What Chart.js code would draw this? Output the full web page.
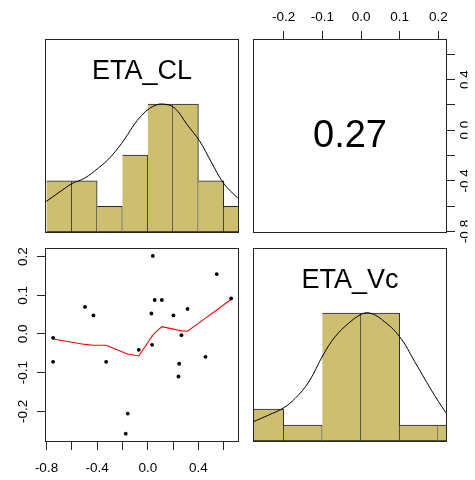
<!DOCTYPE html>
<html>
<head>
<meta charset="utf-8">
<title>ETA pairs</title>
<script src="https://cdn.jsdelivr.net/npm/chart.js@4.4.0/dist/chart.umd.min.js"></script>
<style>
    body { margin: 0; background: #fff; }
    #wrap { position: relative; width: 475px; height: 480px; }
    #wrap canvas { position: absolute; left: 0; top: 0; }
</style>
</head>
<body>
<div id="wrap">
    <canvas id="histCL" width="475" height="480"></canvas>
    <canvas id="corrPanel" width="475" height="480"></canvas>
    <canvas id="scatterPanel" width="475" height="480"></canvas>
    <canvas id="histVc" width="475" height="480"></canvas>
</div>
<script>
// Nomes das variáveis (diagonal)
const varNames = ['ETA_CL', 'ETA_Vc'];

// ETAs individuais (21 sujeitos), ordenados por ETA_CL
const etaCL = [-0.748, -0.748, -0.496, -0.429, -0.329, -0.174, -0.158, -0.071, 0.029, 0.034, 0.040,
               0.055, 0.111, 0.203, 0.243, 0.248, 0.266, 0.314, 0.456, 0.545, 0.659];
const etaVc = [-0.010, -0.072, 0.070, 0.048, -0.072, -0.258, -0.206, -0.041, 0.053, -0.028, 0.202,
               0.088, 0.088, 0.048, -0.110, -0.077, -0.003, 0.065, -0.059, 0.155, 0.092];

// Curva lowess de ETA_Vc em ETA_CL (avaliada nos mesmos x)
const lowessVc = [-0.013, -0.013, -0.027, -0.029, -0.029, -0.050, -0.052, -0.057, -0.008, -0.005, -0.003,
                  0.002, 0.019, 0.0125, 0.0096, 0.0093, 0.008, 0.007, 0.041, 0.062, 0.090];

// Histogramas: centro das classes e contagens
const clBinMids = [-0.7, -0.5, -0.3, -0.1, 0.1, 0.3, 0.5, 0.7];
const clBinCounts = [2, 2, 1, 3, 5, 5, 2, 1];
const vcBinMids = [-0.25, -0.15, -0.05, 0.05, 0.15, 0.25];
const vcBinCounts = [2, 1, 8, 8, 1, 1];

// Densidades (escaladas para pico = 1)
const clDensX = [-0.83, -0.80, -0.70, -0.595, -0.50, -0.39, -0.29, -0.18, -0.10, -0.03, 0.0, 0.05, 0.116,
                 0.21, 0.31, 0.41, 0.50, 0.60, 0.71, 0.74];
const clDensY = [0.22, 0.24, 0.31, 0.38, 0.42, 0.50, 0.59, 0.73, 0.85, 0.93, 0.955, 0.985, 1.0,
                 0.97, 0.84, 0.71, 0.55, 0.38, 0.266, 0.24];
const vcDensX = [-0.30, -0.282, -0.239, -0.202, -0.170, -0.135, -0.098, -0.067, -0.032, 0.001, 0.022,
                 0.053, 0.100, 0.139, 0.182, 0.219, 0.235];
const vcDensY = [0.12, 0.146, 0.203, 0.256, 0.334, 0.463, 0.672, 0.815, 0.92, 0.99, 1.0,
                 0.951, 0.815, 0.62, 0.398, 0.224, 0.16];

// Correlação
const corrValue = 0.27;

// Limites dos eixos e marcas rotuladas
const clRange = [-0.804, 0.713];
const vcRange = [-0.277, 0.220];
const clTickLabels = [-0.8, -0.4, 0.0, 0.4];
const vcTickLabels = [-0.2, -0.1, 0.0, 0.1, 0.2];

const W = 475, H = 480;
const TICK_LEN = 9;
const HIST_FILL = '#CDBE70';
const LINE_DARK = '#262626';
const FONT = "'Liberation Sans', Arial, sans-serif";

const PANELS = {
    tl: { left: 46, top: 40, right: 238, bottom: 232 },
    tr: { left: 254, top: 40, right: 446, bottom: 232 },
    bl: { left: 46, top: 249, right: 238, bottom: 441 },
    br: { left: 254, top: 249, right: 446, bottom: 441 }
};

Chart.defaults.font.family = FONT;
Chart.defaults.color = '#000';

function padFor(p, axes = {}) {
    return {
        left: p.left - (axes.left || 0),
        top: p.top - (axes.top || 0),
        right: W - p.right - (axes.right || 0),
        bottom: H - p.bottom - (axes.bottom || 0)
    };
}

function tickLabeller(labelled) {
    return function (value) {
        const hit = labelled.some(v => Math.abs(v - value) < 1e-9);
        return hit ? value.toFixed(1) : '';
    };
}

// Eixo com marcas para fora; "size" = espaço reservado (marcas + rótulos)
function axisWithTicks(position, range, step, size, extra = {}) {
    const horizontal = position === 'top' || position === 'bottom';
    return {
        type: 'linear',
        position: position,
        min: range[0],
        max: range[1],
        offset: false,
        grid: {
            drawOnChartArea: false,
            drawTicks: true,
            tickLength: TICK_LEN,
            color: LINE_DARK,
            offset: false
        },
        border: { display: false },
        ticks: Object.assign({
            stepSize: step,
            includeBounds: false,
            autoSkip: false,
            maxRotation: 0,
            minRotation: 0,
            font: { size: 13.5 },
            color: '#000'
        }, extra),
        afterFit: function (scale) {
            if (horizontal) scale.height = size;
            else scale.width = size;
        }
    };
}

function hiddenAxis(range, step) {
    return {
        type: 'linear',
        display: false,
        min: range[0],
        max: range[1],
        offset: false,
        grid: { offset: false },
        ticks: { stepSize: step, includeBounds: false }
    };
}

// Moldura, títulos e rótulos verticais
const panelDecor = {
    id: 'panelDecor',
    afterDraw(chart, args, opts) {
        const { ctx, chartArea: a } = chart;
        ctx.save();
        ctx.strokeStyle = LINE_DARK;
        ctx.lineWidth = 1;
        ctx.strokeRect(Math.round(a.left) - 0.5, Math.round(a.top) - 0.5,
            Math.round(a.right - a.left) + 1, Math.round(a.bottom - a.top) + 1);

        ctx.fillStyle = '#000';
        if (opts.title) {
            ctx.font = opts.titleSize + 'px ' + FONT;
            ctx.textAlign = 'center';
            ctx.textBaseline = 'middle';
            ctx.fillText(opts.title, (a.left + a.right) / 2, a.top + opts.titleOffset);
        }
        if (opts.side) {
            const s = opts.side;
            const scale = chart.scales[s.scaleId];
            ctx.save();
            if (s.clipRight) {
                ctx.beginPath();
                ctx.rect(0, 0, s.clipRight, H);
                ctx.clip();
            }
            ctx.font = '13.5px ' + FONT;
            ctx.textAlign = 'center';
            ctx.textBaseline = 'alphabetic';
            s.values.forEach(v => {
                const y = scale.getPixelForValue(v);
                ctx.save();
                ctx.translate(s.x, y);
                ctx.rotate(-Math.PI / 2);
                ctx.fillText(v.toFixed(1), 0, 0);
                ctx.restore();
            });
            ctx.restore();
        }
        ctx.restore();
    }
};

const common = {
    responsive: false,
    animation: false,
    devicePixelRatio: 1,
    events: []
};

function histConfig(panel, mids, counts, densX, densY, range, step, title) {
    const maxCount = Math.max(...counts);
    return {
        type: 'bar',
        data: {
            datasets: [{
                type: 'line',
                data: densX.map((x, i) => ({ x: x, y: densY[i] })),
                borderColor: '#000',
                borderWidth: 1,
                pointRadius: 0,
                tension: 0.4,
                order: 0
            }, {
                type: 'bar',
                data: mids.map((x, i) => ({ x: x, y: counts[i] / maxCount })),
                backgroundColor: HIST_FILL,
                borderColor: LINE_DARK,
                borderWidth: 1,
                borderSkipped: 'left',
                barPercentage: 1,
                categoryPercentage: 1,
                order: 1
            }]
        },
        options: Object.assign({}, common, {
            layout: { autoPadding: false, padding: padFor(panel) },
            scales: {
                x: hiddenAxis(range, step),
                y: { type: 'linear', display: false, min: 0, max: 1.5 }
            },
            plugins: {
                legend: { display: false },
                tooltip: { enabled: false },
                panelDecor: { title: title, titleSize: 27, titleOffset: 31.5 }
            }
        }),
        plugins: [panelDecor]
    };
}

// Diagonal: histograma de ETA_CL
new Chart(document.getElementById('histCL'),
    histConfig(PANELS.tl, clBinMids, clBinCounts, clDensX, clDensY, clRange, 0.2, varNames[0]));

// Diagonal: histograma de ETA_Vc
new Chart(document.getElementById('histVc'),
    histConfig(PANELS.br, vcBinMids, vcBinCounts, vcDensX, vcDensY, vcRange, 0.1, varNames[1]));

// Painel superior: coeficiente de correlação
const topAxisH = PANELS.tr.top;
new Chart(document.getElementById('corrPanel'), {
    type: 'scatter',
    data: { datasets: [] },
    options: Object.assign({}, common, {
        layout: { autoPadding: false, padding: padFor(PANELS.tr, { top: topAxisH, right: TICK_LEN }) },
        scales: {
            x: axisWithTicks('top', vcRange, 0.1, topAxisH, { padding: 6, callback: tickLabeller(vcTickLabels) }),
            y: axisWithTicks('right', clRange, 0.2, TICK_LEN, { display: false })
        },
        plugins: {
            legend: { display: false },
            tooltip: { enabled: false },
            panelDecor: {
                title: corrValue.toFixed(2), titleSize: 38, titleOffset: 96.5,
                side: { scaleId: 'y', values: clTickLabels, x: 469, clipRight: 467.5 }
            }
        }
    }),
    plugins: [panelDecor]
});

// Painel inferior: dispersão com lowess
const bottomAxisH = H - PANELS.bl.bottom;
new Chart(document.getElementById('scatterPanel'), {
    type: 'scatter',
    data: {
        datasets: [{
            type: 'line',
            data: etaCL.map((x, i) => ({ x: x, y: lowessVc[i] })),
            borderColor: '#FF0000',
            borderWidth: 1.1,
            pointRadius: 0,
            tension: 0,
            order: 1
        }, {
            type: 'scatter',
            data: etaCL.map((x, i) => ({ x: x, y: etaVc[i] })),
            backgroundColor: '#000',
            borderWidth: 0,
            pointRadius: 1.9,
            order: 0
        }]
    },
    options: Object.assign({}, common, {
        layout: { autoPadding: false, padding: padFor(PANELS.bl, { left: TICK_LEN, bottom: bottomAxisH }) },
        scales: {
            x: axisWithTicks('bottom', clRange, 0.2, bottomAxisH, { padding: 10, callback: tickLabeller(clTickLabels) }),
            y: axisWithTicks('left', vcRange, 0.1, TICK_LEN, { display: false })
        },
        plugins: {
            legend: { display: false },
            tooltip: { enabled: false },
            panelDecor: {
                side: { scaleId: 'y', values: vcTickLabels, x: 27.3 }
            }
        }
    }),
    plugins: [panelDecor]
});
</script>
</body>
</html>
